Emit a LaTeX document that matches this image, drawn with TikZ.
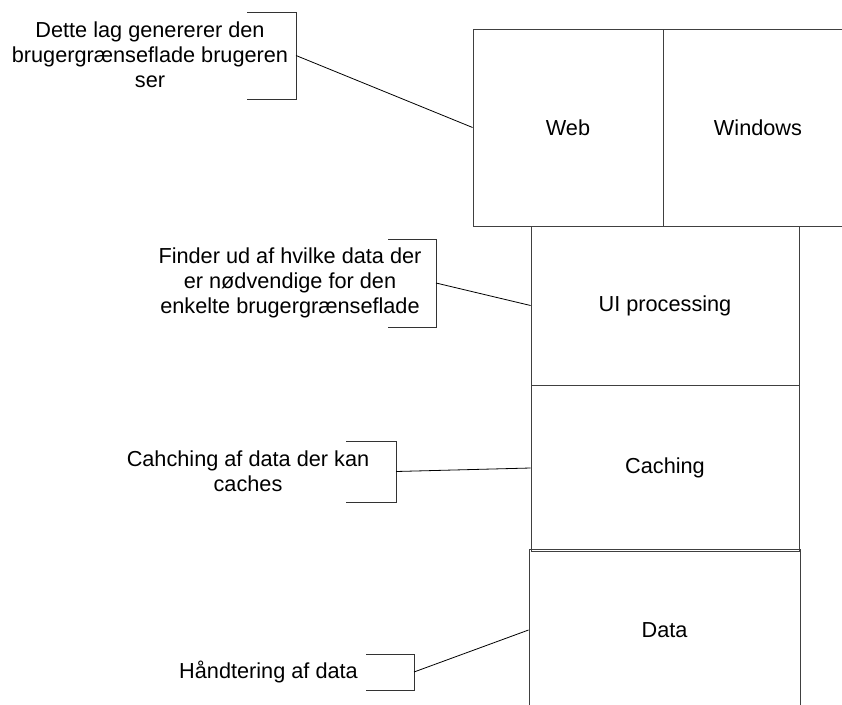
\documentclass[tikz,border=0pt]{standalone}
\usepackage{fontspec}
\setmainfont{Liberation Sans}
\begin{document}
\begin{tikzpicture}[x=1pt,y=-1pt,
  layer/.style={draw=black!75, line width=0.9pt, rectangle, inner sep=0pt, font=\fontsize{21.7}{25}\selectfont},
  note/.style={align=center, inner sep=0pt, font=\fontsize{21.7}{25}\selectfont},
  brk/.style={draw=black!80, line width=0.9pt},
  link/.style={draw=black, line width=0.8pt}]
\useasboundingbox (0,0) rectangle (842,704);
\clip (0,0) rectangle (842,704);
% layer boxes
\node[layer, minimum width=190pt, minimum height=197pt] (web) at (568,127.5) {Web};
\node[layer, minimum width=190pt, minimum height=197pt] (win) at (758,127.5) {Windows};
\node[layer, minimum width=268pt, minimum height=159pt] (ui) at (665,305.5) {UI processing};
\node[layer, minimum width=268pt, minimum height=166pt] (cache) at (665,468) {Caching};
\node[layer, minimum width=271pt, minimum height=162pt] (data) at (664.5,630) {Data};
% notes
\node[note] (n1) at (150,55) {Dette lag genererer den\\brugergrænseflade brugeren\\ser};
\node[note] (n2) at (290,283) {Finder ud af hvilke data der\\er nødvendige for den\\enkelte brugergrænseflade};
\node[note] (n3) at (248,471) {Cahching af data der kan\\caches};
\node[note] (n4) at (268.5,672) {Håndtering af data};
% brackets
\draw[brk] (247,12) -- (296,12) -- (296,99) -- (247,99);
\coordinate (b1) at (296,55.5);
\draw[brk] (388,239) -- (436,239) -- (436,327) -- (388,327);
\coordinate (b2) at (436,283);
\draw[brk] (346,441) -- (396,441) -- (396,502) -- (346,502);
\coordinate (b3) at (396,471.5);
\draw[brk] (366,654) -- (414,654) -- (414,690) -- (366,690);
\coordinate (b4) at (414,672);
% connectors
\draw[link] (b1) -- (web.west);
\draw[link] (b2) -- (ui.west);
\draw[link] (b3) -- (cache.west);
\draw[link] (b4) -- (data.west);
\end{tikzpicture}
\end{document}
